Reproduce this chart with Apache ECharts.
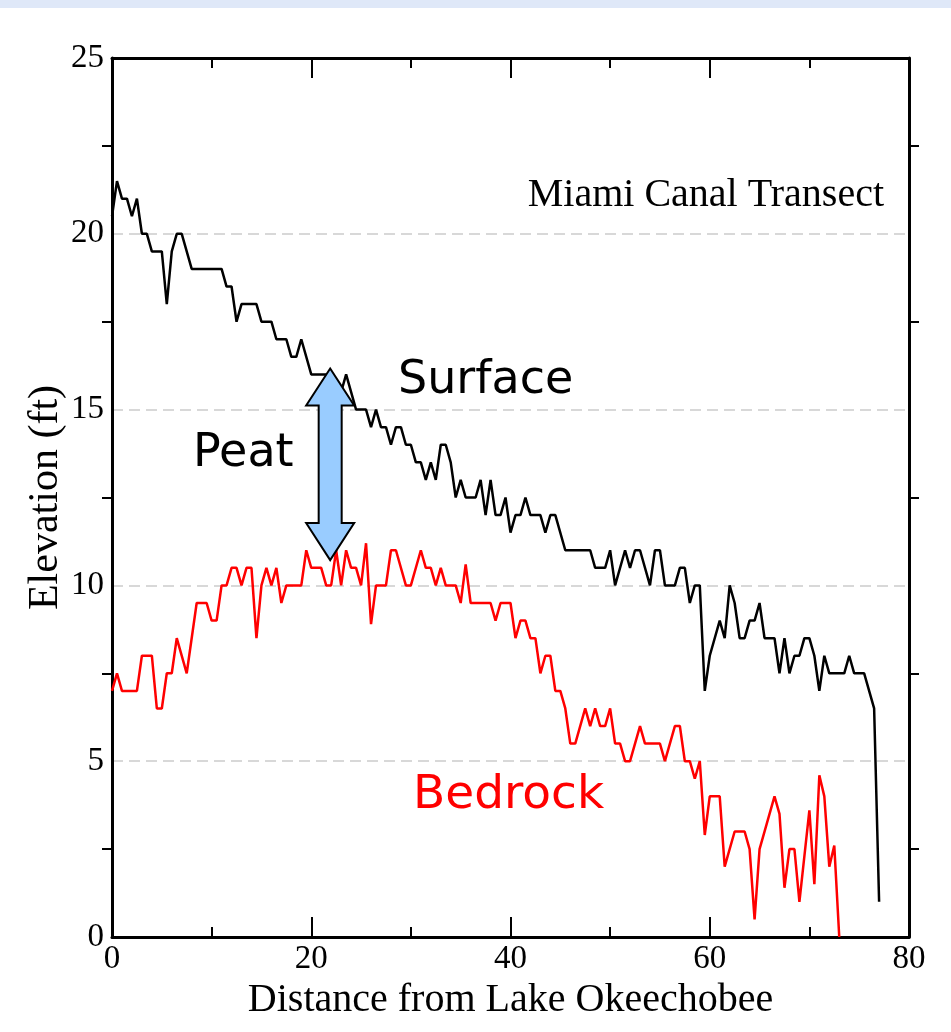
<!DOCTYPE html>
<html>
<head>
<meta charset="utf-8">
<title>Miami Canal Transect</title>
<script src="https://cdn.jsdelivr.net/npm/echarts@6/dist/echarts.min.js"></script>
<style>
  html, body { margin: 0; padding: 0; background: #fff; }
  #chart { width: 951px; height: 1032px; }
</style>
</head>
<body>
<div id="chart"></div>
<script>
// distance (miles from the lake) / elevation (ft) at each vertex
const surfacePts = [
  [0, 20.5], [0.5, 21.5], [1, 21], [1.5, 21], [2, 20.5], [2.5, 21], [3, 20], [3.5, 20],
  [4, 19.5], [5, 19.5], [5.5, 18], [6, 19.5], [6.5, 20], [7, 20], [8, 19], [11, 19],
  [11.5, 18.5], [12, 18.5], [12.5, 17.5], [13, 18], [14.5, 18], [15, 17.5], [16, 17.5],
  [16.5, 17], [17.5, 17], [18, 16.5], [18.5, 16.5], [19, 17], [20, 16], [22, 16],
  [23, 15.5], [23.5, 16], [24.5, 15], [25.5, 15], [26, 14.5], [26.5, 15], [27, 14.5],
  [27.5, 14.5], [28, 14], [28.5, 14.5], [29, 14.5], [29.5, 14], [30, 14], [30.5, 13.5],
  [31, 13.5], [31.5, 13], [32, 13.5], [32.5, 13], [33, 14], [33.5, 14], [34, 13.5],
  [34.5, 12.5], [35, 13], [35.5, 12.5], [36.5, 12.5], [37, 13], [37.5, 12], [38, 13],
  [38.5, 12], [39, 12], [39.5, 12.5], [40, 11.5], [40.5, 12], [41, 12], [41.5, 12.5],
  [42, 12], [43, 12], [43.5, 11.5], [44, 12], [44.5, 12], [45.5, 11], [48, 11],
  [48.5, 10.5], [49.5, 10.5], [50, 11], [50.5, 10], [51.5, 11], [52, 10.5], [52.5, 11],
  [53, 11], [54, 10], [54.5, 11], [55, 11], [55.5, 10], [56.5, 10], [57, 10.5],
  [57.5, 10.5], [58, 9.5], [58.5, 10], [59, 10], [59.5, 7], [60, 8], [61, 9], [61.5, 8.5],
  [62, 10], [62.5, 9.5], [63, 8.5], [63.5, 8.5], [64, 9], [64.5, 9], [65, 9.5], [65.5, 8.5],
  [66.5, 8.5], [67, 7.5], [67.5, 8.5], [68, 7.5], [68.5, 8], [69, 8], [69.5, 8.5], [70, 8.5],
  [70.5, 8], [71, 7], [71.5, 8], [72, 7.5], [73.5, 7.5], [74, 8], [74.5, 7.5], [75.5, 7.5],
  [76.5, 6.5], [77, 1]
];

const bedrockPts = [
  [0, 7], [0.5, 7.5], [1, 7], [2.5, 7], [3, 8], [4, 8], [4.5, 6.5], [5, 6.5], [5.5, 7.5],
  [6, 7.5], [6.5, 8.5], [7.5, 7.5], [8.5, 9.5], [9.5, 9.5], [10, 9], [10.5, 9], [11, 10],
  [11.5, 10], [12, 10.5], [12.5, 10.5], [13, 10], [13.5, 10.5], [14, 10.5], [14.5, 8.5],
  [15, 10], [15.5, 10.5], [16, 10], [16.5, 10.5], [17, 9.5], [17.5, 10], [19, 10],
  [19.5, 11], [20, 10.5], [21, 10.5], [21.5, 10], [22, 10], [22.5, 11], [23, 10], [23.5, 11],
  [24, 10.5], [24.5, 10.5], [25, 10], [25.5, 11.2], [26, 8.9], [26.5, 10], [27.5, 10],
  [28, 11], [28.5, 11], [29.5, 10], [30, 10], [31, 11], [31.5, 10.5], [32, 10.5], [32.5, 10],
  [33, 10.5], [33.5, 10], [34.5, 10], [35, 9.5], [35.5, 10.6], [36, 9.5], [38, 9.5],
  [38.5, 9], [39, 9.5], [40, 9.5], [40.5, 8.5], [41, 9], [41.5, 9], [42, 8.5], [42.5, 8.5],
  [43, 7.5], [43.5, 8], [44, 8], [44.5, 7], [45, 7], [45.5, 6.5], [46, 5.5], [46.5, 5.5],
  [47.5, 6.5], [48, 6], [48.5, 6.5], [49, 6], [49.5, 6], [50, 6.5], [50.5, 5.5], [51, 5.5],
  [51.5, 5], [52, 5], [53, 6], [53.5, 5.5], [55, 5.5], [55.5, 5], [56.5, 6], [57, 6],
  [57.5, 5], [58, 5], [58.5, 4.5], [59, 5], [59.5, 2.9], [60, 4], [61, 4], [61.5, 2],
  [62.5, 3], [63.5, 3], [64, 2.5], [64.5, 0.5], [65, 2.5], [66.5, 4], [67, 3.5], [67.5, 1.4],
  [68, 2.5], [68.5, 2.5], [69, 1], [70, 3.6], [70.5, 1.5], [71, 4.6], [71.5, 4], [72, 2],
  [72.5, 2.6], [73, 0]
];

// peat thickness arrow: [distance, bedrock tip, surface tip]
const peatArrow = [[21.9, 10.72, 16.17]];

const serif = '"Liberation Serif", "Times New Roman", serif';
const sans = '"DejaVu Sans", sans-serif';

const chart = echarts.init(document.getElementById('chart'));

function arrowItem(params, api) {
  const top = api.coord([api.value(0), api.value(2)]);
  const bot = api.coord([api.value(0), api.value(1)]);
  const cx = top[0];
  const hw = 24, sw = 11.5, hl = 37;
  const pts = [
    [cx, top[1]],
    [cx + hw, top[1] + hl],
    [cx + sw, top[1] + hl],
    [cx + sw, bot[1] - hl],
    [cx + hw, bot[1] - hl],
    [cx, bot[1]],
    [cx - hw, bot[1] - hl],
    [cx - sw, bot[1] - hl],
    [cx - sw, top[1] + hl],
    [cx - hw, top[1] + hl]
  ];
  return {
    type: 'polygon',
    shape: { points: pts },
    style: { fill: '#99ccff', stroke: '#000', lineWidth: 2 }
  };
}

chart.setOption({
  animation: false,
  backgroundColor: '#fff',
  grid: { left: 112, right: 42, top: 58, bottom: 95, outerBoundsMode: 'none' },
  graphic: [
    { type: 'rect', left: 0, top: 0, shape: { width: 951, height: 8 }, style: { fill: '#dfe8f8' }, z: 100 },
    { type: 'text', x: 884, y: 195, style: { text: 'Miami Canal Transect', font: '40px ' + serif, fill: '#000', align: 'right', verticalAlign: 'middle' }, z: 100 },
    { type: 'text', x: 398, y: 381, style: { text: 'Surface', font: '46px ' + sans, fill: '#000', align: 'left', verticalAlign: 'middle' }, z: 100 },
    { type: 'text', x: 193, y: 454, style: { text: 'Peat', font: '46px ' + sans, fill: '#000', align: 'left', verticalAlign: 'middle' }, z: 100 },
    { type: 'text', x: 413, y: 796, style: { text: 'Bedrock', font: '47px ' + sans, fill: '#ff0000', align: 'left', verticalAlign: 'middle' }, z: 100 }
  ],
  xAxis: [
    {
      type: 'value', min: 0, max: 80, interval: 20, position: 'bottom',
      name: 'Distance from Lake Okeechobee', nameLocation: 'middle', nameGap: 42,
      nameTextStyle: { fontFamily: serif, fontSize: 40, color: '#000' },
      axisLine: { show: true, onZero: false, lineStyle: { color: '#000', width: 3 } },
      axisTick: { show: true, inside: true, length: 20, lineStyle: { color: '#000', width: 2 } },
      minorTick: { show: true, splitNumber: 2, length: 10, lineStyle: { color: '#000', width: 2 } },
      axisLabel: { fontFamily: serif, fontSize: 33, color: '#000', margin: 6 },
      splitLine: { show: false }
    },
    {
      type: 'value', min: 0, max: 80, interval: 20, position: 'top',
      axisLine: { show: true, onZero: false, lineStyle: { color: '#000', width: 3 } },
      axisTick: { show: true, inside: true, length: 20, lineStyle: { color: '#000', width: 2 } },
      minorTick: { show: true, splitNumber: 2, length: 10, lineStyle: { color: '#000', width: 2 } },
      axisLabel: { show: false },
      splitLine: { show: false }
    }
  ],
  yAxis: [
    {
      type: 'value', min: 0, max: 25, interval: 5, position: 'left',
      name: 'Elevation (ft)', nameLocation: 'middle', nameGap: 45, nameMoveOverlap: false,
      nameTextStyle: { fontFamily: serif, fontSize: 42, color: '#000' },
      axisLine: { show: true, onZero: false, lineStyle: { color: '#000', width: 3 } },
      axisTick: { show: false },
      minorTick: { show: true, splitNumber: 2, length: 10, lineStyle: { color: '#000', width: 2 } },
      axisLabel: { fontFamily: serif, fontSize: 33, color: '#000', margin: 8 },
      splitLine: { show: true, lineStyle: { color: '#d8d8d8', width: 2, type: [11, 6] } }
    },
    {
      type: 'value', min: 0, max: 25, interval: 5, position: 'right',
      axisLine: { show: true, onZero: false, lineStyle: { color: '#000', width: 3 } },
      axisTick: { show: false },
      minorTick: { show: true, splitNumber: 2, length: 10, lineStyle: { color: '#000', width: 2 } },
      axisLabel: { show: false },
      splitLine: { show: false }
    }
  ],
  series: [
    {
      name: 'Bedrock', type: 'line', data: bedrockPts, showSymbol: false,
      lineStyle: { color: '#ff0000', width: 2.5 }, z: 3
    },
    {
      name: 'Surface', type: 'line', data: surfacePts, showSymbol: false,
      lineStyle: { color: '#000', width: 2.5 }, z: 4
    },
    {
      name: 'Peat', type: 'custom', data: peatArrow,
      encode: { x: 0, y: [1, 2] },
      renderItem: arrowItem, z: 10
    }
  ]
});
</script>
</body>
</html>
